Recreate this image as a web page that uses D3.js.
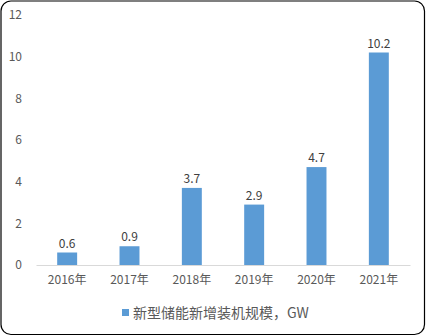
<!DOCTYPE html>
<html><head><meta charset="utf-8">
<script src="https://cdn.jsdelivr.net/npm/d3@7"></script>
<style>
html,body{margin:0;padding:0;background:#fff;}
svg{display:block;font-family:"Noto Sans CJK SC","Noto Sans",sans-serif;}
</style></head>
<body>
<script>
const categories = ["2016年","2017年","2018年","2019年","2020年","2021年"];
const values = [0.6, 0.9, 3.7, 2.9, 4.7, 10.2];
const yTicks = [0, 2, 4, 6, 8, 10, 12];
const seriesName = "新型储能新增装机规模，GW";

const W = 426, H = 336;
const svg = d3.select("body").append("svg").attr("width", W).attr("height", H);

svg.append("rect").attr("x",1).attr("y",1).attr("width",W-2.5).attr("height",H-2.5)
  .attr("rx",10).attr("ry",10).attr("fill","#fff").attr("stroke","#000").attr("stroke-width",1.2);

const x = d3.scaleBand().domain(categories).range([36, 410]).paddingInner(0.68).paddingOuter(0.34);
const y = d3.scaleLinear().domain([0, 12]).range([265, 15]);

// y tick labels
const yAxis = d3.axisLeft(y).tickValues(yTicks).tickSize(0).tickPadding(0);
const gy = svg.append("g").attr("transform","translate(22,0)").call(yAxis);
gy.select(".domain").remove();
gy.selectAll("text").attr("fill","#595959").attr("font-size",12).attr("font-family",'"Noto Sans CJK SC",sans-serif').attr("text-anchor","end");

// bars
svg.append("g").selectAll("rect").data(values).join("rect")
  .attr("x",(d,i)=>x(categories[i]))
  .attr("width",x.bandwidth())
  .attr("y",d=>y(d))
  .attr("height",d=>y(0)-y(d))
  .attr("fill","#5B9BD5");

// x axis
const xAxis = d3.axisBottom(x).tickSize(0).tickPadding(10);
const gx = svg.append("g").attr("transform",`translate(0,${y(0)})`).call(xAxis);
gx.select(".domain").attr("stroke","#D9D9D9").attr("stroke-width",1.2);
gx.selectAll("text").attr("fill","#595959").attr("font-size",12).attr("font-family",'"Noto Sans CJK SC",sans-serif');

// data labels
svg.append("g").selectAll("text").data(values).join("text")
  .attr("x",(d,i)=>x(categories[i])+x.bandwidth()/2)
  .attr("y",d=>y(d)-5)
  .attr("text-anchor","middle")
  .attr("fill","#404040").attr("font-size",12)
  .text(d=>d.toFixed(1));

// legend
const lg = svg.append("g");
lg.append("rect").attr("x",122).attr("y",309).attr("width",7).attr("height",7).attr("fill","#5B9BD5");
lg.append("text").attr("x",133).attr("y",318).attr("fill","#595959").attr("font-size",14).text(seriesName);
</script>
</body></html>
